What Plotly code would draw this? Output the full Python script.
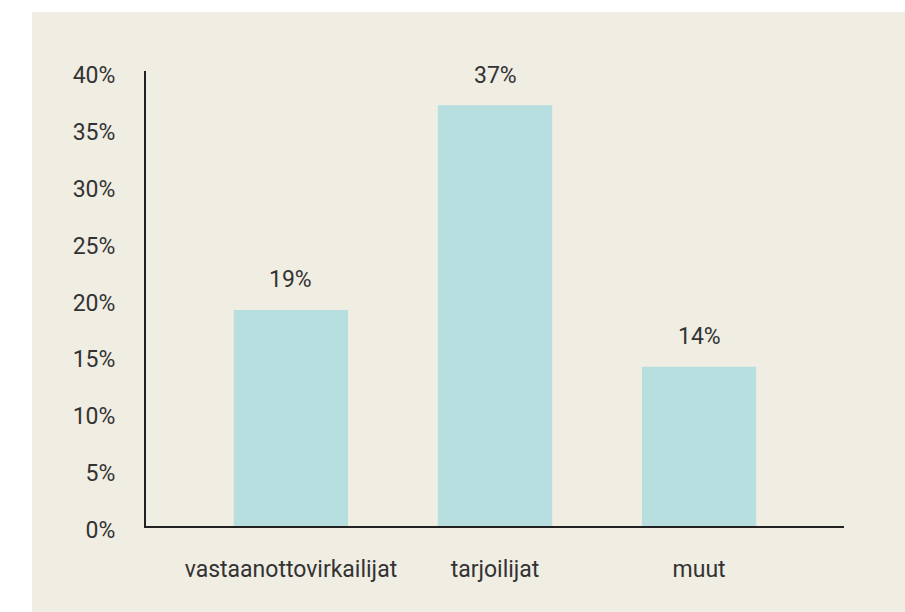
import plotly.graph_objects as go

categories = ["vastaanottovirkailijat", "tarjoilijat", "muut"]
values = [19, 37, 14]
tick_vals = [0, 5, 10, 15, 20, 25, 30, 35, 40]
tick_text = [f"{v}%" for v in tick_vals]

BG = "#f0ede3"
BAR = "#b8dfdf"
TXT = "#333333"
FONT = "Roboto"
FS = 23

fig = go.Figure()
fig.add_trace(go.Bar(
    x=list(range(len(categories))), y=values, width=0.56,
    marker=dict(color=BAR, line=dict(width=0)),
    hoverinfo="skip",
))

for i, v in enumerate(values):
    fig.add_annotation(x=i, y=v, text=f"{v}%", showarrow=False, yshift=30,
                       font=dict(family=FONT, size=FS, color=TXT))

# white page strips (left and top) outside the beige panel
fig.add_shape(type="rect", xref="paper", yref="paper",
              x0=-0.3, x1=-0.1633, y0=-0.3, y1=1.3,
              fillcolor="white", line=dict(width=0), layer="below")
fig.add_shape(type="rect", xref="paper", yref="paper",
              x0=-0.3, x1=1.3, y0=1.1297, y1=1.3,
              fillcolor="white", line=dict(width=0), layer="below")

fig.update_layout(
    width=905, height=612,
    margin=dict(l=146, r=61, t=71, b=86),
    paper_bgcolor=BG, plot_bgcolor="rgba(0,0,0,0)",
    showlegend=False,
    font=dict(family=FONT, size=FS, color=TXT),
    xaxis=dict(range=[-0.71, 2.71], tickvals=list(range(len(categories))),
               ticktext=categories, showgrid=False, zeroline=False,
               showline=True, linecolor="#222222", linewidth=2,
               ticks="", ticklabelstandoff=21, fixedrange=True),
    yaxis=dict(range=[0, 40], tickvals=tick_vals, ticktext=tick_text,
               showgrid=False, zeroline=False, showline=True,
               linecolor="#222222", linewidth=2, ticks="",
               ticklabelstandoff=24, ticklabelshift=4, fixedrange=True),
)

fig.write_html("out.html", config={"displayModeBar": False},
               post_script=("document.body.style.margin='0';"
                            "document.body.style.overflow='hidden';"
                            "document.documentElement.style.overflow='hidden';"
                            "document.body.style.background='" + BG + "';"
                            "document.documentElement.style.background='" + BG + "';"))
